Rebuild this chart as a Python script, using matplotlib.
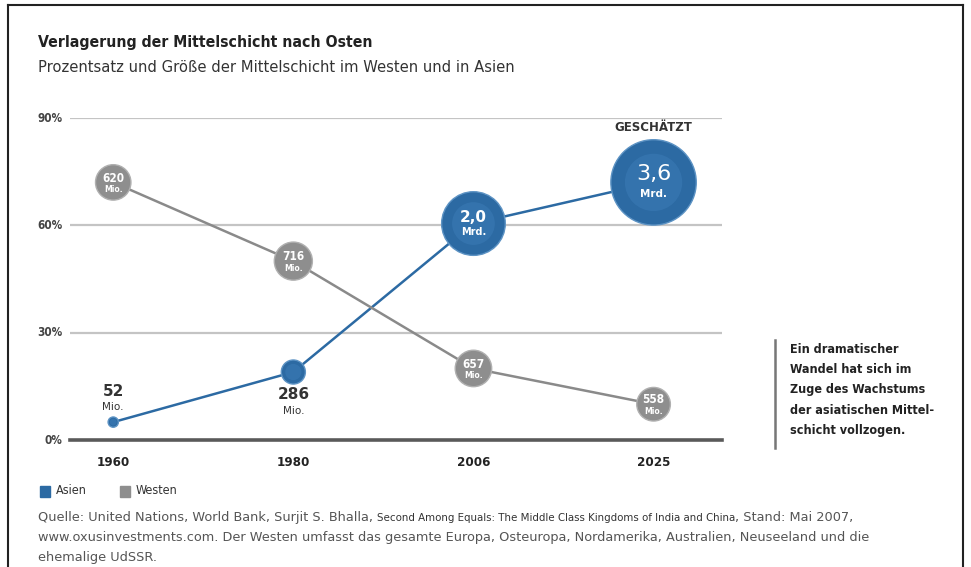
import numpy as np
import matplotlib
matplotlib.use("Agg")
from matplotlib import pyplot as plt
from matplotlib.lines import Line2D
from matplotlib.patches import Rectangle

# data
years = ["1960", "1980", "2006", "2025"]
asienPct = [5, 19, 60.5, 72]
westenPct = [72, 50, 20, 10]
asienMio = [52, 286, 2000, 3600]
westenMio = [620, 716, 657, 558]
asienLbl = [("52", "Mio."), ("286", "Mio."), ("2,0", "Mrd."), ("3,6", "Mrd.")]
westenLbl = [("620", "Mio."), ("716", "Mio."), ("657", "Mio."), ("558", "Mio.")]
yTicks = [0, 30, 60, 90]

BLUE = "#2c6aa3"
GREY = "#8e8e8e"
W, H = 971, 567

fig = plt.figure(figsize=(W / 100, H / 100), dpi=100)
fig.patch.set_facecolor("white")

# axes placed in pixel coordinates of the reference
def px(x0, y0, x1, y1):
    return [x0 / W, 1 - y1 / H, (x1 - x0) / W, (y1 - y0) / H]

ax = fig.add_axes(px(70, 118, 722, 440))
ax.set_xlim(-0.24, 3.38)
ax.set_ylim(0, 90)
for s in ax.spines.values():
    s.set_visible(False)
ax.set_xticks([])
ax.set_yticks([])

for t in yTicks[1:]:
    ax.axhline(t, color="#c4c4c4", lw=1.6, zorder=0)
ax.axhline(0, color="#5a5a5a", lw=2.6, zorder=0, clip_on=False)

xs = np.arange(len(years))
for i, y in enumerate(yTicks):
    ax.text(-0.28, y, f"{y}%", ha="right", va="center", fontsize=8.5,
            color="#444444", fontweight="bold", fontstretch="condensed")
for i, yr in enumerate(years):
    ax.text(xs[i], -4.5, yr, ha="center", va="top", fontsize=9.5,
            color="#222222", fontweight="bold", fontstretch="condensed")

# lines
ax.plot(xs, asienPct, color=BLUE, lw=1.8, zorder=2)
ax.plot(xs, westenPct, color="#8a8a8a", lw=1.8, zorder=2)

# bubbles: area proportional to population
sA = np.array(asienMio) * 1.05
sW = np.array(westenMio) * 1.05
ax.scatter(xs, asienPct, s=sA, color=BLUE, edgecolor="#5d93c4", lw=1.0, zorder=3)
ax.scatter(xs, asienPct, s=sA * 0.45, color="#3a7ab5", lw=0, zorder=3, alpha=0.6)
ax.scatter(xs, westenPct, s=sW, color=GREY, edgecolor="#b0b0b0", lw=1.0, zorder=3)

# labels on Asia
ax.text(xs[0], asienPct[0] + 8.5, asienLbl[0][0], ha="center", va="center",
        fontsize=11, fontweight="bold", color="#333333")
ax.text(xs[0], asienPct[0] + 4.3, asienLbl[0][1], ha="center", va="center",
        fontsize=7.5, color="#333333")
ax.text(xs[1], asienPct[1] - 6.4, asienLbl[1][0], ha="center", va="center",
        fontsize=11, fontweight="bold", color="#333333")
ax.text(xs[1], asienPct[1] - 10.8, asienLbl[1][1], ha="center", va="center",
        fontsize=7.5, color="#333333")
ax.text(xs[2], asienPct[2] + 1.6, asienLbl[2][0], ha="center", va="center",
        fontsize=11, fontweight="bold", color="white", zorder=4)
ax.text(xs[2], asienPct[2] - 2.4, asienLbl[2][1], ha="center", va="center",
        fontsize=7, fontweight="bold", color="white", zorder=4)
ax.text(xs[3], asienPct[3] + 2.3, asienLbl[3][0], ha="center", va="center",
        fontsize=16, color="white", zorder=4)
ax.text(xs[3], asienPct[3] - 3.3, asienLbl[3][1], ha="center", va="center",
        fontsize=7.5, fontweight="bold", color="white", zorder=4)
ax.text(xs[3], 87.3, "GESCHÄTZT", ha="center", va="center", fontsize=8.5,
        fontweight="bold", color="#333333")

# labels on Westen
for i in range(len(years)):
    ax.text(xs[i], westenPct[i] + 1.2, westenLbl[i][0], ha="center", va="center",
            fontsize=8.5, fontweight="bold", color="white", zorder=4,
            fontstretch="condensed")
    ax.text(xs[i], westenPct[i] - 2.0, westenLbl[i][1], ha="center", va="center",
            fontsize=5.5, fontweight="bold", color="white", zorder=4)

# titles
fig.text(38 / W, 1 - 43 / H, "Verlagerung der Mittelschicht nach Osten",
         fontsize=11.3, fontweight="bold", color="#222222", va="center",
         fontstretch="condensed")
fig.text(38 / W, 1 - 67 / H,
         "Prozentsatz und Größe der Mittelschicht im Westen und in Asien",
         fontsize=10.6, color="#333333", va="center")

# side note
fig.add_artist(Line2D([775 / W, 775 / W], [1 - 340 / H, 1 - 448 / H],
                      color="#777777", lw=1.8))
note = "Ein dramatischer\nWandel hat sich im\nZuge des Wachstums\nder asiatischen Mittel-\nschicht vollzogen."
fig.text(790 / W, 1 - 343 / H, note, fontsize=9, fontweight="bold",
         color="#222222", va="top", linespacing=1.72, fontstretch="condensed")

# legend
fig.add_artist(Rectangle((40 / W, 1 - 497 / H), 10 / W, 11 / H,
                         color=BLUE, transform=fig.transFigure))
fig.text(56 / W, 1 - 491 / H, "Asien", fontsize=9, va="center",
         color="#333333", fontstretch="condensed")
fig.add_artist(Rectangle((120 / W, 1 - 497 / H), 10 / W, 11 / H,
                         color=GREY, transform=fig.transFigure))
fig.text(136 / W, 1 - 491 / H, "Westen", fontsize=9, va="center",
         color="#333333", fontstretch="condensed")

# source, first line in pieces (book title set smaller and darker)
srcParts = [("Quelle: United Nations, World Bank, Surjit S. Bhalla, ", False),
            ("Second Among Equals: The Middle Class Kingdoms of India and China", True),
            (", Stand: Mai 2007,", False)]
srcRest = ["www.oxusinvestments.com. Der Westen umfasst das gesamte Europa, Osteuropa, "
           "Nordamerika, Australien, Neuseeland und die",
           "ehemalige UdSSR."]
renderer = fig.canvas.get_renderer()
xcur = 38
for txt, cond in srcParts:
    if cond:
        t = fig.text(xcur / W, 1 - 518 / H, txt, fontsize=7.4, color="#333333",
                     va="center")
    else:
        t = fig.text(xcur / W, 1 - 518 / H, txt, fontsize=9.3, color="#555555",
                     va="center")
    bb = t.get_window_extent(renderer)
    xcur += bb.width
for k, line in enumerate(srcRest):
    fig.text(38 / W, 1 - (538 + 20 * k) / H, line, fontsize=9.3,
             color="#555555", va="center")

# frame
for (x0, y0, x1, y1) in [(8, 5, 963, 5), (8, 5, 8, 567), (963, 5, 963, 567)]:
    fig.add_artist(Line2D([x0 / W, x1 / W], [1 - y0 / H, 1 - y1 / H],
                          color="#222222", lw=1.5))

fig.savefig("out.png", dpi=100)
